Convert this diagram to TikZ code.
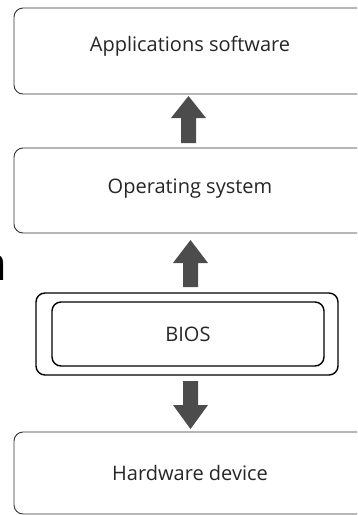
\documentclass[tikz,border=0pt]{standalone}
\usepackage{fontspec}
\setmainfont{Open Sans}
\newfontfamily\bigsans{Liberation Sans}
\begin{document}
\begin{tikzpicture}[x=1pt,y=-1pt,
  layerbox/.style={draw=black!80,line width=0.9pt,rounded corners=9pt},
  biosbox/.style={draw=black,line width=1.4pt,rounded corners=9pt},
  lbl/.style={font=\fontsize{20}{24}\selectfont,text=black!85,inner sep=0pt},
  fatarrow/.style={fill=black!70,draw=none}
]
\useasboundingbox (0,0) rectangle (357,515);
\clip (0,0) rectangle (357,515);
% layer boxes
\draw[layerbox] (14,8) rectangle (366,94);
\node[lbl] (app) at (190,46) {Applications software};
\draw[layerbox] (14,148) rectangle (366,233);
\node[lbl] (os) at (190,189) {Operating system};
\draw[biosbox] (36,293) rectangle (338,375);
\draw[biosbox] (52,302) rectangle (324,366);
\node[lbl] (bios) at (188,334) {BIOS};
\draw[layerbox] (14,432) rectangle (366,514);
\node[lbl] (hw) at (190,473) {Hardware device};
% arrows
\fill[fatarrow] (181,143) -- (181,118) -- (171,118) -- (188.5,96) -- (206,118) -- (196,118) -- (196,143) -- cycle;
\fill[fatarrow] (183,287) -- (183,263) -- (173,263) -- (190.5,240) -- (208,263) -- (198,263) -- (198,287) -- cycle;
\fill[fatarrow] (183,381) -- (183,405) -- (173,405) -- (190.5,429) -- (208,405) -- (198,405) -- (198,381) -- cycle;
% cropped letter at left edge
\node[font=\bigsans\fontsize{47}{50}\selectfont,inner sep=0pt,anchor=base east] (n) at (6.5,280) {n};
\end{tikzpicture}
\end{document}
